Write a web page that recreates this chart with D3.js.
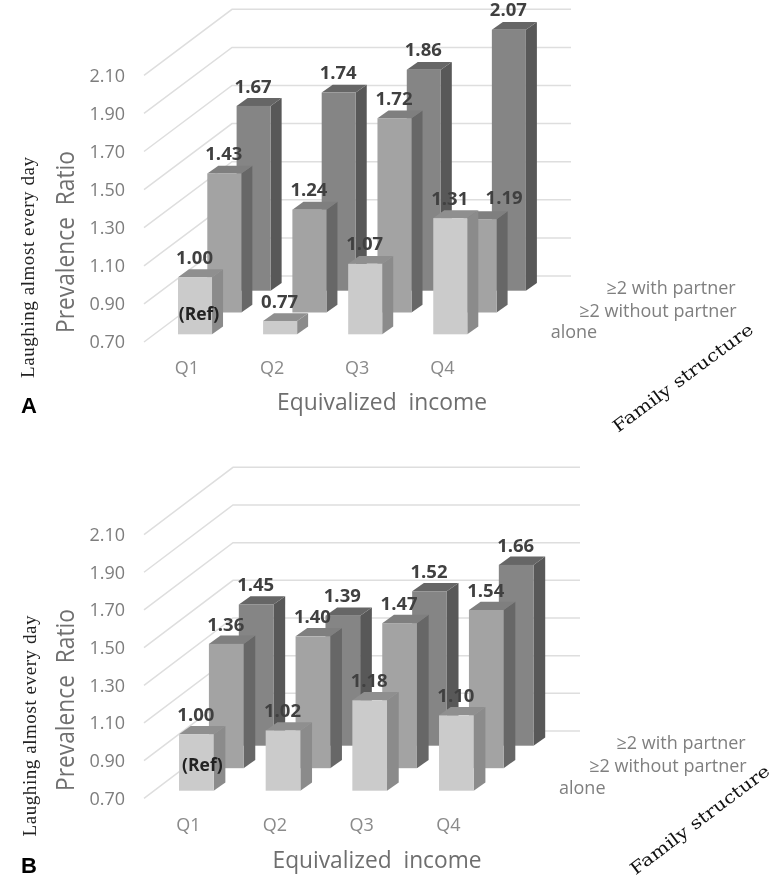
<!DOCTYPE html>
<html><head><meta charset="utf-8">
<style>
html,body{margin:0;padding:0;background:#fff}
svg{display:block;filter:blur(0.35px)}
text{white-space:pre}
</style>
<script src="https://cdn.jsdelivr.net/npm/d3@7"></script>
</head><body><svg id="c" width="771" height="877"></svg>
<script>
const categories = ["Q1","Q2","Q3","Q4"];
const seriesNames = ["alone","≥2 without partner","≥2 with partner"];
const tickLabels = ["0.70","0.90","1.10","1.30","1.50","1.70","1.90","2.10"];

const panelAAlone = [1.00,0.77,1.07,1.31];
const panelAWithout = [1.43,1.24,1.72,1.19];
const panelAWith = [1.67,1.74,1.86,2.07];

const panelBAlone = [1.00,1.02,1.18,1.10];
const panelBWithout = [1.36,1.40,1.47,1.54];
const panelBWith = [1.45,1.39,1.52,1.66];

const faceColors = ["#cbcbcb","#a3a3a3","#858585"];
const sideColors = ["#8b8b8b","#676767","#585858"];
const topColors  = ["#8f8f8f","#7f7f7f","#666666"];

const layoutA = {
  letter:"A", letterXY:[21,413],
  xRange:[178,467.3], baseY:334.3, pxHeight:266.7,
  rowDx:29.3, rowDy:-21.8, boxDx:11, boxDy:-7.8,
  wallX0:232, wallX1:571, wallY:276, gridX0:144, gridY:342,
  tickX:125, catY:368, catShift:-8,
  prevalence:[65,242], laughing:[28,267.5],
  incomeXY:[382,402], incomeLen:210,
  legend:[{x:550.7,y:332,a:"start"},{x:736.7,y:310.7,a:"end"},{x:735.7,y:288,a:"end"}],
  family:[683,378,-36.5],
  refOffset:[4,-21],
  labelNudge:{"1-3":[25,-2]}
};
const layoutB = {
  letter:"B", letterXY:[21,873],
  xRange:[179,473.7], baseY:790.7, pxHeight:263.7,
  rowDx:29.9, rowDy:-22.5, boxDx:11.7, boxDy:-8.3,
  wallX0:233, wallX1:580, wallY:731, gridX0:144, gridY:798.3,
  tickX:125, catY:825, catShift:-8,
  prevalence:[65,700], laughing:[30,726],
  incomeXY:[377,860], incomeLen:209,
  legend:[{x:559,y:788,a:"start"},{x:746.7,y:765.7,a:"end"},{x:745.7,y:743,a:"end"}],
  family:[700,820,-37],
  refOffset:[6,-25.7],
  labelNudge:{}
};

const svg = d3.select("#c");
const sans = "'Open Sans',sans-serif";
const serif = "'Liberation Serif',serif";

function drawPanel(L, rows){
  const g = svg.append("g");
  const x = d3.scaleBand().domain(categories).range(L.xRange).paddingInner(0.6).paddingOuter(0);
  const y = d3.scaleLinear().domain([0.7,2.1]).range([0,-L.pxHeight]);
  const depth = d3.scalePoint().domain(seriesNames).range([0,2]);
  const bw = x.bandwidth();
  const ticks = tickLabels.map(Number);

  const gridH = v => y(v);
  const gridG = g.append("g").attr("fill","none").attr("stroke","#dedede").attr("stroke-width",1.5);
  gridG.selectAll("path").data(ticks).join("path")
    .attr("d", v => d3.line()([
      [L.gridX0, L.gridY + gridH(v)],
      [L.wallX0, L.wallY + gridH(v)],
      [L.wallX1, L.wallY + gridH(v)]
    ]));

  g.append("g").selectAll("text").data(tickLabels).join("text")
    .attr("x",L.tickX).attr("y",d=>L.gridY+gridH(+d))
    .attr("dy","0.36em").attr("text-anchor","end")
    .attr("font-family",sans).attr("font-size",18).attr("fill","#7d7d7d").text(d=>d);

  const flat = [];
  seriesNames.forEach((s,si)=>categories.forEach((c,ci)=>flat.push({s,si,c,ci,v:rows[si][ci]})));
  const order = flat.slice().sort((a,b)=>b.si-a.si || a.ci-b.ci);
  const bars = g.append("g").selectAll("g").data(order).join("g");
  const left = d => x(d.c) + depth(d.s)*L.rowDx;
  const base = d => L.baseY + depth(d.s)*L.rowDy;
  const top = d => base(d) + y(d.v);
  bars.append("path").attr("fill",d=>sideColors[d.si]).attr("d",d=>{
    const r=left(d)+bw; return d3.line()([[r,top(d)],[r+L.boxDx,top(d)+L.boxDy],[r+L.boxDx,base(d)+L.boxDy],[r,base(d)]])+"Z";
  });
  bars.append("path").attr("fill",d=>topColors[d.si]).attr("d",d=>{
    const l=left(d),t=top(d); return d3.line()([[l,t],[l+L.boxDx,t+L.boxDy],[l+bw+L.boxDx,t+L.boxDy],[l+bw,t]])+"Z";
  });
  bars.append("rect").attr("fill",d=>faceColors[d.si])
    .attr("x",left).attr("y",top).attr("width",bw).attr("height",d=>base(d)-top(d));

  g.append("g").selectAll("text").data(flat).join("text")
    .attr("x",d=>left(d)+bw/2-0.5+((L.labelNudge[d.si+"-"+d.ci]||[0,0])[0]))
    .attr("y",d=>top(d)-20+((L.labelNudge[d.si+"-"+d.ci]||[0,0])[1]))
    .attr("dy","0.36em").attr("text-anchor","middle")
    .attr("font-family",sans).attr("font-weight",700).attr("font-size",18.5)
    .attr("fill","#404040").text(d=>d.v.toFixed(2));

  g.append("text").attr("x",x("Q1")+bw/2+L.refOffset[0]).attr("y",L.baseY+L.refOffset[1]).attr("dy","0.36em")
    .attr("text-anchor","middle").attr("font-family",sans).attr("font-weight",700)
    .attr("font-size",17.5).attr("fill","#222").text("(Ref)");

  g.append("g").selectAll("text").data(categories).join("text")
    .attr("x",d=>x(d)+bw/2+L.catShift).attr("y",L.catY).attr("dy","0.36em")
    .attr("text-anchor","middle").attr("font-family",sans).attr("font-size",18)
    .attr("fill","#8a8a8a").text(d=>d);

  g.append("g").selectAll("text").data(seriesNames).join("text")
    .attr("x",(d,i)=>L.legend[i].x).attr("y",(d,i)=>L.legend[i].y).attr("dy","0.36em")
    .attr("text-anchor",(d,i)=>L.legend[i].a).attr("font-family",sans).attr("font-size",18)
    .attr("fill","#7f7f7f").text(d=>d);

  g.append("text").attr("transform",`translate(${L.prevalence[0]},${L.prevalence[1]}) rotate(-90)`)
    .attr("dy","0.36em").attr("text-anchor","middle").attr("font-family",sans).attr("font-size",25)
    .attr("fill","#707070").attr("textLength",182).attr("lengthAdjust","spacingAndGlyphs").text("Prevalence  Ratio");
  g.append("text").attr("transform",`translate(${L.laughing[0]},${L.laughing[1]}) rotate(-90)`)
    .attr("dy","0.32em").attr("text-anchor","middle").attr("font-family",serif).attr("font-size",19)
    .attr("fill","#222").attr("textLength",221).attr("lengthAdjust","spacing").text("Laughing almost every day");
  g.append("text").attr("x",L.incomeXY[0]).attr("y",L.incomeXY[1]).attr("dy","0.36em")
    .attr("text-anchor","middle").attr("font-family",sans).attr("font-size",23)
    .attr("fill","#6e6e6e").attr("textLength",L.incomeLen).attr("lengthAdjust","spacingAndGlyphs").text("Equivalized  income");
  g.append("text").attr("transform",`translate(${L.family[0]},${L.family[1]}) rotate(${L.family[2]})`)
    .attr("dy","0.32em").attr("text-anchor","middle").attr("font-family","'DejaVu Serif',serif").attr("font-size",17)
    .attr("fill","#111").attr("textLength",170).attr("lengthAdjust","spacingAndGlyphs").text("Family structure");
  g.append("text").attr("x",L.letterXY[0]).attr("y",L.letterXY[1])
    .attr("font-family","'Liberation Sans',sans-serif").attr("font-weight",700).attr("font-size",22)
    .attr("fill","#000").text(L.letter);
}

drawPanel(layoutA,[panelAAlone,panelAWithout,panelAWith]);
drawPanel(layoutB,[panelBAlone,panelBWithout,panelBWith]);
</script></body></html>
